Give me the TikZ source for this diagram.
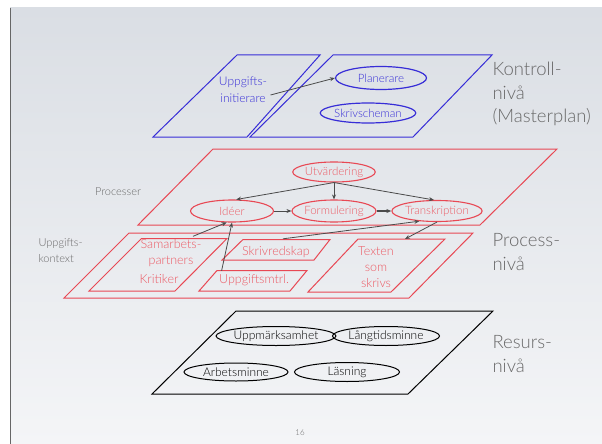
\documentclass[tikz,border=0pt]{standalone}
\usepackage{fontspec}
\setmainfont{Lato}[UprightFont=* Light]
\usetikzlibrary{arrows.meta,shapes.geometric,calc}
\definecolor{bluec}{RGB}{55,45,215}
\definecolor{redc}{RGB}{232,72,84}
\definecolor{redt}{RGB}{236,90,100}
\definecolor{grayt}{RGB}{105,105,105}
\definecolor{arrc}{RGB}{75,75,75}
\definecolor{bgtop}{RGB}{218,222,228}
\definecolor{bgbot}{RGB}{244,245,247}
\begin{document}
\begin{tikzpicture}[x=1pt,y=-1pt,
  ellbase/.style={ellipse,inner sep=0pt,font=\fontsize{11.5}{13}\selectfont},
  bell/.style={ellbase,draw=bluec,line width=1.2pt,text=bluec},
  rell/.style={ellbase,draw=redc,line width=1.1pt,text=redt},
  kell/.style={ellbase,draw=black,line width=1pt,text=black,font=\fontsize{12}{13}\selectfont},
  bpar/.style={draw=bluec,line width=1pt},
  rpar/.style={draw=redc,line width=1pt},
  kpar/.style={draw=black,line width=1pt},
  rtext/.style={text=redt,align=center,font=\fontsize{12.5}{16}\selectfont},
  lvl/.style={text=grayt,align=left,anchor=west,font=\fontsize{18.5}{23.5}\selectfont},
  side/.style={text=grayt,align=left,font=\fontsize{11}{16}\selectfont},
  arr/.style={draw=arrc,line width=0.8pt,-{Stealth[length=5pt,width=4pt]}}]
\useasboundingbox (0,0) rectangle (602,444);
\fill[white] (0,0) rectangle (602,444);
\shade[top color=bgtop,bottom color=bgbot] (10,8) rectangle (602,444);
\draw[gray!80!black,line width=0.8pt] (10,8) -- (10,444);

% Kontrollniva
\draw[bpar] (237,55) -- (320,55) -- (247,137) -- (153,137) -- cycle;
\draw[bpar] (333,55) -- (492,55) -- (413,137) -- (250,137) -- cycle;
\node[bell,minimum width=91,minimum height=23] (plan) at (381,78) {Planerare};
\node[bell,minimum width=84,minimum height=20] (schem) at (368,113) {Skrivscheman};
\node[text=bluec,align=center,font=\fontsize{12}{17}\selectfont] (init) at (243,90) {Uppgifts-\\initierare};
\node[lvl] (kontroll) at (489,94) {Kontroll-\\nivå\\(Masterplan)};

% Processniva
\draw[rpar] (213,149) -- (557,149) -- (480,225) -- (138,225) -- cycle;
\node[rell,minimum width=82,minimum height=20] (utv) at (334,172) {Utvärdering};
\node[rell,minimum width=83,minimum height=22] (ide) at (232,211) {Idéer};
\node[rell,minimum width=84,minimum height=22] (form) at (334,211) {Formulering};
\node[rell,minimum width=83,minimum height=21] (trans) at (437,211) {Transkription};
\node[side] (proc) at (118,192) {Processer};

\draw[rpar] (129,233) -- (473,233) -- (409,298) -- (64,298) -- cycle;
\draw[rpar] (141.5,238.5) -- (227,238.5) -- (175,291) -- (89,291) -- cycle;
\draw[rpar] (243,239.5) -- (330,239.5) -- (314,260) -- (222,260) -- cycle;
\draw[rpar] (217,270.5) -- (307,270.5) -- (290,291) -- (199,291) -- cycle;
\draw[rpar] (358,239) -- (445,239) -- (391,292) -- (308,292) -- cycle;
\node[rtext] (samarb) at (171,253.5) {Samarbets-\\partners};
\node[rtext] (krit) at (159,279) {Kritiker};
\node[rtext] (skriv) at (276,252) {Skrivredskap};
\node[rtext] (mtrl) at (254,280) {Uppgiftsmtrl.};
\node[rtext] (texten) at (376,267) {Texten\\som\\skrivs};
\node[side,anchor=west] (kontext) at (35,251) {Uppgifts-\\kontext};
\node[lvl] (process) at (489,252) {Process-\\nivå};

% Resursniva
\draw[kpar] (236,311) -- (493,311) -- (408,394) -- (152,394) -- cycle;
\node[kell,minimum width=105,minimum height=19] (uppm) at (276,336) {Uppmärksamhet};
\node[kell,minimum width=107,minimum height=19] (lang) at (386,336) {Långtidsminne};
\node[kell,minimum width=104,minimum height=18] (arb) at (236,372) {Arbetsminne};
\node[kell,minimum width=105,minimum height=19] (las) at (347,372) {Läsning};
\node[lvl] (resurs) at (489,354) {Resurs-\\nivå};

\node[text=grayt,font=\fontsize{8}{9}\selectfont] (page) at (300,433) {16};

% arrows
\draw[arr] ($(init.east)+(0,5)$) -- (plan.west);
\draw[arr] (utv.south) -- (ide.70);
\draw[arr] (utv.south) -- (form.north);
\draw[arr] (utv.south) -- (trans.105);
\draw[arr] (ide.east) -- (form.west);
\draw[arr,line width=1.2pt] (form.east) -- (trans.west);
\draw[arr] ($(samarb.north)+(22,0)$) -- (ide.-115);
\draw[arr] ($(mtrl.north west)+(6,0)$) -- (ide.south);
\draw[arr] ($(skriv.north)+(7,-4)$) -- (trans.-150);
\draw[arr] (trans.south) -- ($(texten.north)+(29,-4)$);
\end{tikzpicture}
\end{document}
